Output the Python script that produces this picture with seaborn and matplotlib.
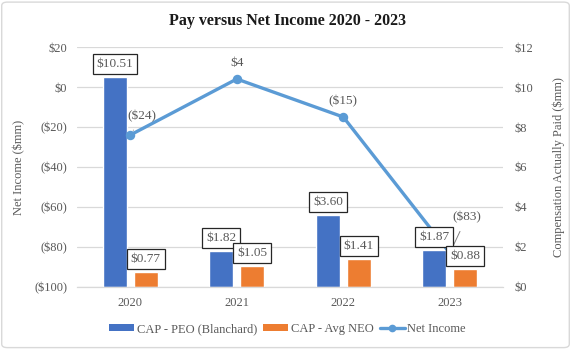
import matplotlib
matplotlib.use("Agg")
import matplotlib.pyplot as plt
import seaborn as sns
import pandas as pd
from matplotlib.patches import Patch, FancyBboxPatch
from matplotlib.lines import Line2D

# ---- data ($mm) ----
years = ["2020", "2021", "2022", "2023"]
cap_peo = [10.51, 1.82, 3.60, 1.87]
cap_neo = [0.77, 1.05, 1.41, 0.88]
net_income = [-24, 4, -15, -83]

series_names = ["CAP - PEO (Blanchard)", "CAP - Avg NEO", "Net Income"]
left_ticks = [20, 0, -20, -40, -60, -80, -100]
left_tick_labels = ["$20", "$0", "($20)", "($40)", "($60)", "($80)", "($100)"]
right_ticks = [0, 2, 4, 6, 8, 10, 12]
right_tick_labels = ["$0", "$2", "$4", "$6", "$8", "$10", "$12"]

BLUE = "#4472C4"
ORANGE = "#ED7D31"
LINE = "#5B9BD5"
GRID = "#D9D9D9"
TXT = "#595959"

sns.set_theme(style="white")
plt.rcParams["font.family"] = ["Liberation Serif", "DejaVu Serif"]

fig = plt.figure(figsize=(5.71, 3.49), dpi=100)
ax = fig.add_axes([0.1349, 0.1777, 0.7461, 0.6876])  # bars (right scale)
ax2 = ax.twinx()                                      # net income (left scale)

# ---- bars ----
bars = pd.DataFrame({
    "year": years * 2,
    "cap": cap_peo + cap_neo,
    "series": [series_names[0]] * len(years) + [series_names[1]] * len(years),
})
sns.barplot(data=bars, x="year", y="cap", hue="series", ax=ax,
            palette=[BLUE, ORANGE], width=0.58, gap=0.22,
            saturation=1, legend=False, zorder=2)
ax.set_ylim(0, 12)
ax.set_xlim(-0.5, len(years) - 0.5)
ax.set_yticks(right_ticks)
ax.set_yticklabels(right_tick_labels)
ax.yaxis.tick_right()
ax.yaxis.set_label_position("right")
ax.yaxis.grid(True, color=GRID, lw=0.9, zorder=0)
ax.set_axisbelow(True)
ax.set_xlabel("")
ax.set_ylabel("Compensation Actually Paid ($mm)", color=TXT, fontsize=9)
ax.yaxis.set_label_coords(1.115, 0.5)
ax.tick_params(axis="y", length=0, pad=8.5, labelsize=9, labelcolor=TXT)
ax.tick_params(axis="x", length=0, pad=7, labelsize=9, labelcolor=TXT)
for s in ["top", "left", "right"]:
    ax.spines[s].set_visible(False)
ax.spines["bottom"].set_color(GRID)
ax.spines["bottom"].set_linewidth(0.9)

# ---- net income line ----
sns.pointplot(x=years, y=net_income, ax=ax2, color=LINE, markers="o",
              markersize=5, linewidth=2.4, zorder=3)
ax2.set_ylim(-100, 20)
ax2.set_xlim(-0.5, len(years) - 0.5)
ax2.set_yticks(left_ticks)
ax2.set_yticklabels(left_tick_labels)
ax2.yaxis.tick_left()
ax2.yaxis.set_label_position("left")
ax2.set_ylabel("Net Income ($mm)", color=TXT, fontsize=9)
ax2.yaxis.set_label_coords(-0.122, 0.5)
ax2.tick_params(axis="y", length=0, pad=7, labelsize=9, labelcolor=TXT)
ax2.tick_params(axis="x", length=0, labelbottom=False)
for s in ax2.spines.values():
    s.set_visible(False)
ax2.grid(False)

# ---- bar value labels (boxed) ----
box = dict(boxstyle="square,pad=0.3", fc="white", ec="#262626", lw=0.9)
half = 0.58 / 4
for i, (p, n) in enumerate(zip(cap_peo, cap_neo)):
    for xpos, val in ((i - half, p), (i + half, n)):
        ax2.annotate(f"${val:.2f}", xy=(xpos, (val / 12) * 120 - 100),
                     xytext=(0, 13), textcoords="offset pixels",
                     ha="center", va="center", fontsize=9.5, color=TXT,
                     bbox=box, zorder=6)

# ---- net income labels ----
def money(v):
    return f"${v}" if v >= 0 else f"(${-v})"

ni_offsets = [(12, 19), (0, 16), (0, 16), (17, 36)]
for i, (v, off) in enumerate(zip(net_income, ni_offsets)):
    leader = off[0] != 0
    ax2.annotate(money(v), xy=(i, v), xytext=off, textcoords="offset pixels",
                 ha="center", va="center", fontsize=9.5, color=TXT, zorder=5,
                 arrowprops=dict(arrowstyle="-", color="#7F7F7F", lw=0.7,
                                 shrinkA=4, shrinkB=4) if leader else None)

# ---- title, legend, frame ----
fig.text(0.5035, 0.94, "Pay versus Net Income 2020 - 2023", ha="center",
         va="center", fontsize=11.5, fontweight="bold", color="#1a1a1a")

handles = [
    Patch(facecolor=BLUE, edgecolor="none"),
    Patch(facecolor=ORANGE, edgecolor="none"),
    Line2D([0], [0], color=LINE, lw=2.4, marker="o", markersize=4.5),
]
fig.legend(handles, series_names, loc="center", bbox_to_anchor=(0.5035, 0.057),
           ncol=3, frameon=False, fontsize=9, handlelength=2.0,
           handleheight=0.5, handletextpad=0.2, columnspacing=0.5,
           labelcolor=TXT)

fig.patches.append(FancyBboxPatch((0.003, 0.004), 0.994, 0.99,
                                  boxstyle="round,pad=0,rounding_size=0.01",
                                  transform=fig.transFigure, fc="none",
                                  ec=GRID, lw=1.0))

fig.savefig("out.png", dpi=100)
